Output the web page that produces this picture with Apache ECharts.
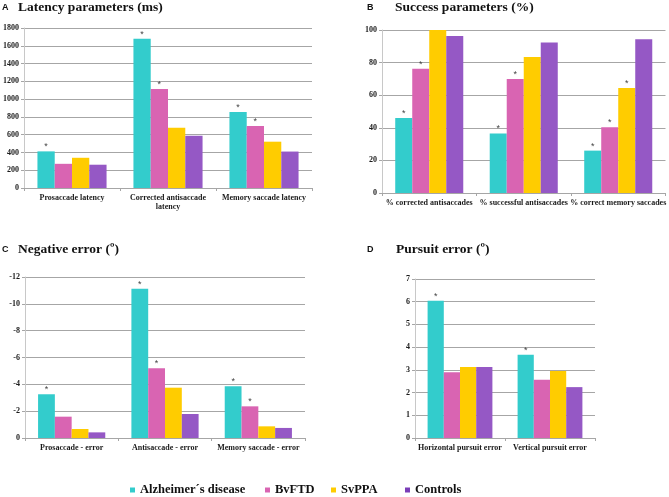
<!DOCTYPE html>
<html>
<head>
<meta charset="utf-8">
<script src="https://cdn.jsdelivr.net/npm/echarts@6/dist/echarts.min.js"></script>
<style>
  html, body { margin: 0; padding: 0; background: #fff; }
  #chart { width: 669px; height: 497px; }
</style>
</head>
<body>
<div id="chart"></div>
<script>
// groups shown in every panel
var groups = ['Alzheimer´s disease', 'BvFTD', 'SvPPA', 'Controls'];
var colors = ['#33CCCC', '#D964B2', '#FFCC00', '#9558C5'];

// A - latency (ms)
var latencyCats = ['Prosaccade latency', 'Corrected antisaccade\nlatency', 'Memory saccade latency'];
var latencyValues = [
    [412, 1680, 855],
    [272, 1114, 697],
    [340, 678, 521],
    [262, 588, 410]
];
var latencySig = [[1, 1, 1], [0, 1, 1], [0, 0, 0], [0, 0, 0]];
var latencyTicks = [0, 1800, 200];

// B - success (%)
var successCats = ['% corrected antisaccades', '% successful antisaccades', '% correct memory saccades'];
var successValues = [
    [46, 36.5, 26],
    [76.2, 70, 40.4],
    [100, 83.4, 64.4],
    [96.3, 92.4, 94.3]
];
var successSig = [[1, 1, 1], [1, 1, 1], [0, 0, 1], [0, 0, 0]];
var successTicks = [0, 100, 20];

// C - negative error (º)
var negCats = ['Prosaccade - error', 'Antisaccade - error', 'Memory saccade - error'];
var negValues = [
    [-3.26, -11.13, -3.85],
    [-1.59, -5.19, -2.36],
    [-0.67, -3.75, -0.87],
    [-0.42, -1.79, -0.75]
];
var negSig = [[1, 1, 1], [0, 1, 1], [0, 0, 0], [0, 0, 0]];
var negTicks = [-12, 0, 2];

// D - pursuit error (º)
var pursuitCats = ['Horizontal pursuit error', 'Vertical pursuit error'];
var pursuitValues = [
    [6.04, 3.67],
    [2.89, 2.56],
    [3.13, 2.95],
    [3.13, 2.24]
];
var pursuitSig = [[1, 1], [0, 0], [0, 0], [0, 0]];
var pursuitTicks = [0, 7, 1];

var serif = 'Liberation Serif';
var sans = 'Liberation Sans';

var chart = echarts.init(document.getElementById('chart'));

// 每个面板的网格位置
var grids = [
    {left: 24, top: 28, width: 288, height: 160},
    {left: 382, top: 30, width: 285, height: 163},
    {left: 25, top: 277, width: 280, height: 161},
    {left: 415, top: 279, width: 180, height: 159}
];
var panels = [
    {cats: latencyCats, values: latencyValues, sig: latencySig, ticks: latencyTicks},
    {cats: successCats, values: successValues, sig: successSig, ticks: successTicks},
    {cats: negCats, values: negValues, sig: negSig, ticks: negTicks, inverse: true},
    {cats: pursuitCats, values: pursuitValues, sig: pursuitSig, ticks: pursuitTicks}
];

var xAxes = [], yAxes = [], series = [];
panels.forEach(function (p, i) {
    xAxes.push({
        type: 'category',
        gridIndex: i,
        data: p.cats,
        axisLine: {lineStyle: {color: '#A6A6A6'}},
        axisTick: {show: true, length: 3, lineStyle: {color: '#A6A6A6'}},
        axisLabel: {
            interval: 0, margin: 5, color: '#1a1a1a',
            fontFamily: serif, fontWeight: 'bold', fontSize: 8, lineHeight: 9
        }
    });
    yAxes.push({
        type: 'value',
        gridIndex: i,
        min: p.ticks[0],
        max: p.ticks[1],
        interval: p.ticks[2],
        inverse: !!p.inverse,
        axisLine: {show: true, lineStyle: {color: '#C8C8C8'}},
        axisTick: {show: true, length: 3, lineStyle: {color: '#A6A6A6'}},
        splitLine: {lineStyle: {color: '#A6A6A6'}},
        axisLabel: {
            margin: 5, color: '#1a1a1a',
            fontFamily: serif, fontWeight: 'bold', fontSize: 8,
            formatter: function (v) { return String(v); }
        }
    });
    groups.forEach(function (g, k) {
        var sig = p.sig[k];
        series.push({
            name: g,
            type: 'bar',
            xAxisIndex: i,
            yAxisIndex: i,
            data: p.values[k],
            barGap: 0,
            barCategoryGap: '28%',
            itemStyle: {color: colors[k]},
            label: {
                show: true,
                position: 'top',
                distance: 0,
                color: '#444',
                fontFamily: sans,
                fontSize: 9,
                formatter: function (d) {
                    return sig[d.dataIndex] ? '*' : '';
                }
            }
        });
    });
});

var titleText = {fontFamily: serif, fontWeight: 'bold', fontSize: 13.5, lineHeight: 14, color: '#111'};
var letterText = {fontFamily: sans, fontWeight: 'bold', fontSize: 9, lineHeight: 10, color: '#111'};

var legendBase = function (name, left, col) {
    return {
        left: left, top: 483, padding: 0,
        itemWidth: 5, itemHeight: 5,
        icon: 'rect',
        selectedMode: false,
        data: [{name: name, itemStyle: col ? {color: col} : undefined}],
        textStyle: {fontFamily: serif, fontWeight: 'bold', fontSize: 12.5, lineHeight: 14, color: '#111'}
    };
};

chart.setOption({
    backgroundColor: '#fff',
    animation: false,
    title: [
        {text: 'A', left: 2, top: 3, padding: 0, textStyle: letterText},
        {text: 'Latency parameters (ms)', left: 18, top: 1, padding: 0, textStyle: titleText},
        {text: 'B', left: 367, top: 3, padding: 0, textStyle: letterText},
        {text: 'Success parameters (%)', left: 395, top: 1, padding: 0, textStyle: titleText},
        {text: 'C', left: 2, top: 245, padding: 0, textStyle: letterText},
        {text: 'Negative error (º)', left: 18, top: 243, padding: 0, textStyle: titleText},
        {text: 'D', left: 367, top: 245, padding: 0, textStyle: letterText},
        {text: 'Pursuit error (º)', left: 396, top: 243, padding: 0, textStyle: titleText}
    ],
    legend: [
        legendBase(groups[0], 130),
        legendBase(groups[1], 265),
        legendBase(groups[2], 331),
        legendBase(groups[3], 405, '#7A3DB8')
    ],
    grid: grids,
    xAxis: xAxes,
    yAxis: yAxes,
    series: series
});
</script>
</body>
</html>
